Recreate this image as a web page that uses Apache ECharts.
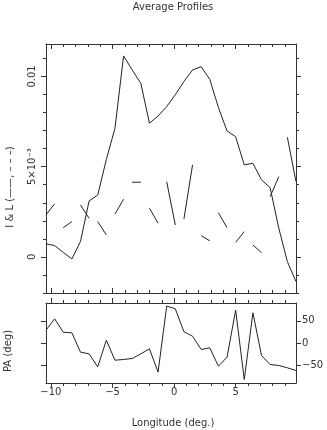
<!DOCTYPE html>
<html>
<head>
<meta charset="utf-8">
<title>Average Profiles</title>
<script src="https://cdn.jsdelivr.net/npm/echarts@6/dist/echarts.min.js"></script>
<style>
  html, body { margin: 0; padding: 0; background: #fff; }
  #main { width: 327px; height: 430px; }
</style>
</head>
<body>
<div id="main"></div>
<script>
// pulse longitude of each bin (deg)
var longitude = [-10.4, -9.7, -9.0, -8.3, -7.6, -6.9, -6.2, -5.5, -4.8, -4.1,
                 -3.4, -2.7, -2.0, -1.3, -0.6, 0.1, 0.8, 1.5, 2.2, 2.9,
                 3.6, 4.3, 5.0, 5.7, 6.4, 7.1, 7.8, 8.5, 9.2, 9.9];
// total intensity I (solid)
var intensity = [0.00072, 0.00063, 0.00025, -0.00011, 0.00085, 0.00310, 0.00343, 0.00540, 0.00713, 0.01114,
                 0.01036, 0.00962, 0.00741, 0.00781, 0.00833, 0.00899, 0.00972, 0.01036, 0.01054, 0.00984,
                 0.00828, 0.00698, 0.00666, 0.00510, 0.00519, 0.00427, 0.00384, 0.00160, -0.00026, -0.00137];
// linear polarisation L (dashed)
var linear = [0.00233, 0.00294, 0.00162, 0.00196, 0.00288, 0.00214, 0.00196, 0.00122, 0.00238, 0.00320,
              0.00414, 0.00414, 0.00270, 0.00187, 0.00417, 0.00177, 0.00210, 0.00510, 0.00118, 0.00089,
              0.00245, 0.00162, 0.00081, 0.00140, 0.00066, 0.00024, 0.00334, 0.00445, 0.00663, 0.00417];
// position angle (deg)
var posAngle = [28.8, 54.4, 24.3, 22.9, -20.6, -24.4, -53.6, 6.3, -38.7, -37.1,
                -34.9, -24.4, -13.1, -65.6, 82.9, 76.9, 25.2, 15.3, -14.6, -10.9,
                -52.2, -31.9, 73.8, -82.1, 67.9, -28.1, -48.4, -50.6, -55.8, -61.9];

// ticks
var xMinorTicks = [-10, -9, -8, -7, -6, -5, -4, -3, -2, -1, 0, 1, 2, 3, 4, 5, 6, 7, 8, 9];
var xMajorTicks = [-10, -5, 0, 5];
var iMinorTicks = [-0.002, -0.001, 0, 0.001, 0.002, 0.003, 0.004, 0.005, 0.006, 0.007, 0.008, 0.009, 0.01, 0.011];
var iMajorTicks = [0, 0.005, 0.01];
var paTicks = [-50, 0, 50];

var FONT = 'DejaVu Sans';
var INK = '#333';

function minus(v) {
  return String(v).replace('-', '\u2212');
}

function iLabel(v) {
  if (v === 0) return '0';
  if (Math.abs(v - 0.005) < 1e-9) return '5\u00d710\u207b\u00b3';
  return String(v);
}

// one axis drawing a set of ticks (and maybe the line / labels)
function xAx(grid, pos, ticks, len, inside, line, labels) {
  return {
    type: 'value', gridIndex: grid, position: pos, min: -10.4, max: 9.9,
    axisLine: { show: line, onZero: false, lineStyle: { color: INK, width: 1 } },
    axisTick: { show: true, inside: inside, length: len, customValues: ticks, lineStyle: { color: INK } },
    axisLabel: labels ? {
      show: true, customValues: xMajorTicks, margin: 4, color: INK,
      fontFamily: FONT, fontSize: 10, formatter: minus
    } : { show: false },
    splitLine: { show: false }
  };
}

function yAx(grid, pos, min, max, ticks, len, line, label) {
  return {
    type: 'value', gridIndex: grid, position: pos, min: min, max: max,
    axisLine: { show: line, onZero: false, lineStyle: { color: INK, width: 1 } },
    axisTick: { show: true, inside: false, length: len, customValues: ticks, lineStyle: { color: INK } },
    axisLabel: label || { show: false },
    splitLine: { show: false }
  };
}

// L is drawn one bin-segment on, one off
var linearData = [];
for (var i = 0; i < longitude.length; i += 2) {
  linearData.push([longitude[i], linear[i]]);
  if (i + 1 < longitude.length) linearData.push([longitude[i + 1], linear[i + 1]]);
  linearData.push([longitude[i], '-']);
}

var chart = echarts.init(document.getElementById('main'));

var option = {
  animation: false,
  backgroundColor: '#fff',
  grid: [
    { left: 46, right: 31, top: 44, height: 249 },
    { left: 46, right: 31, top: 303, height: 80 }
  ],
  xAxis: [
    xAx(0, 'bottom', xMinorTicks, 3, true, true, false),
    xAx(0, 'bottom', xMajorTicks, 5, true, false, false),
    xAx(0, 'top', xMinorTicks, 3, true, true, false),
    xAx(0, 'top', xMajorTicks, 5, true, false, false),
    xAx(1, 'top', xMinorTicks, 3, false, true, false),
    xAx(1, 'top', xMajorTicks, 5, false, false, false),
    xAx(1, 'bottom', xMinorTicks, 3, false, true, false),
    xAx(1, 'bottom', xMajorTicks, 5, false, false, true)
  ],
  yAxis: [
    yAx(0, 'left', -0.002, 0.0118, iMinorTicks, 3, true, {
      show: true, customValues: iMajorTicks, rotate: 90, margin: 9, color: INK,
      fontFamily: FONT, fontSize: 10, formatter: iLabel
    }),
    yAx(0, 'left', -0.002, 0.0118, iMajorTicks, 5, false),
    yAx(0, 'right', -0.002, 0.0118, iMinorTicks, 3, true),
    yAx(0, 'right', -0.002, 0.0118, iMajorTicks, 5, false),
    yAx(1, 'left', -90, 90, paTicks, 5, true),
    yAx(1, 'right', -90, 90, paTicks, 5, true, {
      show: true, customValues: paTicks, margin: 6, color: INK,
      fontFamily: FONT, fontSize: 10, formatter: minus
    })
  ],
  series: [
    {
      name: 'I', type: 'line', xAxisIndex: 0, yAxisIndex: 0,
      data: longitude.map(function (x, k) { return [x, intensity[k]]; }),
      showSymbol: false, lineStyle: { color: '#222', width: 1 }
    },
    {
      name: 'L', type: 'line', xAxisIndex: 0, yAxisIndex: 0,
      data: linearData, connectNulls: false,
      showSymbol: false, lineStyle: { color: '#222', width: 1 }
    },
    {
      name: 'PA', type: 'line', xAxisIndex: 6, yAxisIndex: 4,
      data: longitude.map(function (x, k) { return [x, posAngle[k]]; }),
      showSymbol: false, lineStyle: { color: '#222', width: 1 }
    }
  ],
  graphic: [
    {
      type: 'text', x: 173, y: 7,
      style: { text: 'Average Profiles', fill: INK, font: '10px "DejaVu Sans"', align: 'center', verticalAlign: 'middle' }
    },
    {
      type: 'text', x: 173, y: 423,
      style: { text: 'Longitude (deg.)', fill: INK, font: '10px "DejaVu Sans"', align: 'center', verticalAlign: 'middle' }
    },
    {
      type: 'text', x: 10, y: 187, rotation: Math.PI / 2,
      style: { text: 'I & L (\u2014\u2014, \u2013 \u2013 \u2013)', fill: INK, font: '10px "DejaVu Sans"', align: 'center', verticalAlign: 'middle' }
    },
    {
      type: 'text', x: 8, y: 351, rotation: Math.PI / 2,
      style: { text: 'PA (deg)', fill: INK, font: '10px "DejaVu Sans"', align: 'center', verticalAlign: 'middle' }
    }
  ]
};

chart.setOption(option);
</script>
</body>
</html>
